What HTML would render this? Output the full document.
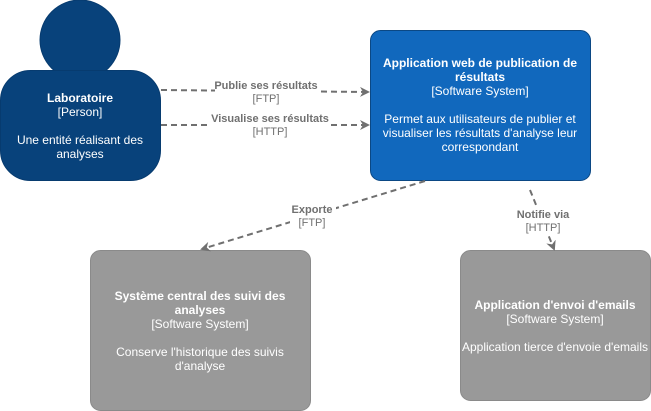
<!DOCTYPE html>
<html><head><style>body{margin:0;background:#fff}svg{display:block}text{font-family:"Liberation Sans",Arial,sans-serif;font-size:12px}</style></head><body>
<svg width="651" height="411" viewBox="0 0 651 411" xmlns="http://www.w3.org/2000/svg">
<defs><marker id="a" markerWidth="10" markerHeight="10" refX="8" refY="5" orient="auto" markerUnits="userSpaceOnUse"><path d="M0,0 L10,5 L0,10 L3,5 z" fill="#707070"/></marker></defs>
<circle cx="80" cy="40" r="40" fill="#08427B" stroke="#073B6F"/>
<rect x="0.5" y="70.5" width="160" height="110" rx="30" fill="#08427B" stroke="#073B6F"/>
<g fill="#fff" text-anchor="middle">
<text x="80" y="102" font-weight="bold">Laboratoire</text>
<text x="80" y="116">[Person]</text>
<text x="80" y="144">Une entité réalisant des</text>
<text x="80" y="158">analyses</text>
</g>
<rect x="370.5" y="30.5" width="220" height="150" rx="10" fill="#1168BD" stroke="#0B4884"/>
<g fill="#fff" text-anchor="middle">
<text x="480" y="67" font-weight="bold">Application web de publication de</text>
<text x="480" y="81" font-weight="bold">résultats</text>
<text x="480" y="95">[Software System]</text>
<text x="480" y="123">Permet aux utilisateurs de publier et</text>
<text x="480" y="137">visualiser les résultats d'analyse leur</text>
<text x="480" y="151">correspondant</text>
</g>
<rect x="90.5" y="250.5" width="220" height="160" rx="10" fill="#999999" stroke="#8A8A8A"/>
<g fill="#fff" text-anchor="middle">
<text x="200" y="300" font-weight="bold">Système central des suivi des</text>
<text x="200" y="314" font-weight="bold">analyses</text>
<text x="200" y="328">[Software System]</text>
<text x="200" y="356">Conserve l'historique des suivis</text>
<text x="200" y="370">d'analyse</text>
</g>
<rect x="460.5" y="250.5" width="190" height="150" rx="10" fill="#999999" stroke="#8A8A8A"/>
<g fill="#fff" text-anchor="middle">
<text x="555" y="309" font-weight="bold">Application d'envoi d'emails</text>
<text x="555" y="323">[Software System]</text>
<text x="555" y="351">Application tierce d'envoie d'emails</text>
</g>
<g stroke="#707070" stroke-width="2" stroke-dasharray="6,4" fill="none">
<path d="M161,90 L368,92" marker-end="url(#a)"/>
<path d="M161,125 L368,125" marker-end="url(#a)"/>
<path d="M425,181 L202,249" marker-end="url(#a)"/>
<path d="M530,190 L554,249" marker-end="url(#a)"/>
</g>
<g text-anchor="middle" font-size="11">
<rect x="215" y="78" width="104" height="26" fill="#fff"/>
<text x="266" y="89" fill="#707070" font-weight="bold" style="font-size:11px">Publie ses résultats</text>
<text x="266" y="102" fill="#707070" style="font-size:11px">[FTP]</text>
<rect x="210" y="112" width="120" height="26" fill="#fff"/>
<text x="270" y="122" fill="#707070" font-weight="bold" style="font-size:11px">Visualise ses résultats</text>
<text x="270" y="135" fill="#707070" style="font-size:11px">[HTTP]</text>
<rect x="290" y="203" width="46" height="26" fill="#fff"/>
<text x="312" y="213" fill="#707070" font-weight="bold" style="font-size:11px">Exporte</text>
<text x="312" y="226" fill="#707070" style="font-size:11px">[FTP]</text>
<rect x="515" y="208" width="56" height="26" fill="#fff"/>
<text x="543" y="218" fill="#707070" font-weight="bold" style="font-size:11px">Notifie via</text>
<text x="543" y="231" fill="#707070" style="font-size:11px">[HTTP]</text>
</g>
</svg>
</body></html>
